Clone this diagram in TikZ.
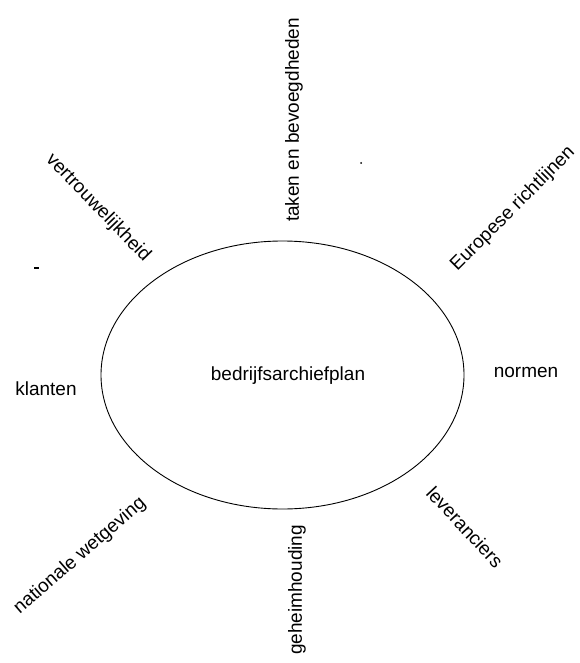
\documentclass[tikz,border=0pt]{standalone}
\usepackage{fontspec}
\setmainfont{Liberation Sans}
\usetikzlibrary{shapes.geometric}
\begin{document}
\begin{tikzpicture}[x=1pt,y=-1pt,
  lbl/.style={font=\fontsize{19}{22}\selectfont, inner sep=0pt, anchor=center},
  plate/.style={ellipse, draw, line width=0.9pt, inner sep=0pt,
                minimum width=363pt, minimum height=268pt}]
\useasboundingbox (0,0) rectangle (579,663);
% central plan
\node[plate] (plan) at (282.5,375) {};
\node[lbl] (title) at (288,376) {bedrijfsarchiefplan};
% surrounding factors
\node[lbl, rotate=90]  (taken)   at (294,120) {taken en bevoegdheden};
\node[lbl, rotate=-46] (vertr)   at (98,208)  {vertrouwelijkheid};
\node[lbl, rotate=45]  (europ)   at (513,209) {Europese richtlijnen};
\node[lbl]             (klanten) at (46,389)  {klanten};
\node[lbl]             (normen)  at (526,372) {normen};
\node[lbl, rotate=41]  (natio)   at (80,556)  {nationale wetgeving};
\node[lbl, rotate=90]  (geheim)  at (297,590) {geheimhouding};
\node[lbl, rotate=-47] (lever)   at (465,527) {leveranciers};
% stray specks
\fill (361,163) circle (1pt);
\fill (34,267) rectangle (39,268.5);
\end{tikzpicture}
\end{document}
